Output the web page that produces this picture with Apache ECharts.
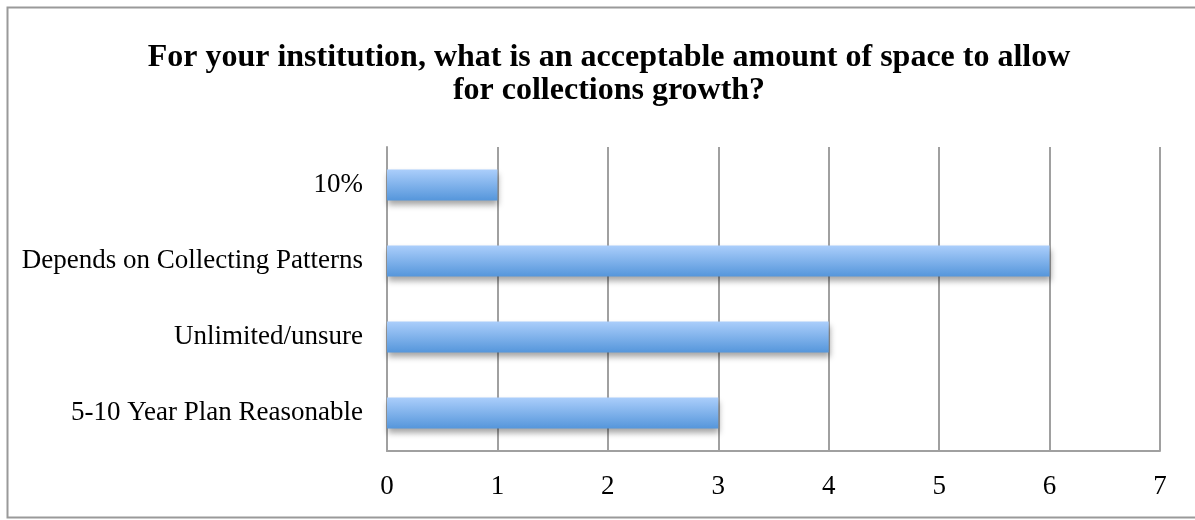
<!DOCTYPE html>
<html>
<head>
<meta charset="utf-8">
<script src="https://cdn.jsdelivr.net/npm/echarts@6/dist/echarts.min.js"></script>
<style>
html,body{margin:0;padding:0;background:#fff;}
#chart{width:1195px;height:520px;}
</style>
</head>
<body>
<div id="chart"></div>
<script>
var titleText = 'For your institution, what is an acceptable amount of space to allow\nfor collections growth?';
var categories = ['10%', 'Depends on Collecting Patterns', 'Unlimited/unsure', '5-10 Year Plan Reasonable'];
var values = [1, 6, 4, 3];
var xTicks = [0, 1, 2, 3, 4, 5, 6, 7];

var chart = echarts.init(document.getElementById('chart'), null, {renderer: 'canvas'});
var font = '"Liberation Serif", "Times New Roman", serif';
chart.setOption({
  animation: false,
  backgroundColor: '#fff',
  graphic: [{
    type: 'rect',
    shape: {x: 7.5, y: 7.5, width: 1200, height: 510},
    style: {fill: 'none', stroke: '#9a9a9a', lineWidth: 2},
    silent: true
  }],
  title: {
    text: titleText,
    left: 604,
    top: 36,
    textAlign: 'center',
    textStyle: {fontFamily: font, fontWeight: 'bold', fontSize: 32, color: '#000', lineHeight: 33}
  },
  grid: {left: 387, right: 35, top: 147, bottom: 69, containLabel: false},
  xAxis: {
    type: 'value',
    min: xTicks[0],
    max: xTicks[xTicks.length - 1],
    interval: 1,
    axisLine: {show: true, lineStyle: {color: '#a0a0a0', width: 2}},
    axisTick: {show: false},
    splitLine: {show: true, lineStyle: {color: '#a0a0a0', width: 2}},
    axisLabel: {fontFamily: font, fontSize: 27, color: '#000', margin: 22}
  },
  yAxis: {
    type: 'category',
    data: categories,
    inverse: true,
    axisLine: {show: true, lineStyle: {color: '#a0a0a0', width: 2}},
    axisTick: {show: false},
    axisLabel: {fontFamily: font, fontSize: 27, color: '#000', margin: 24}
  },
  series: [{
    type: 'bar',
    data: values,
    barWidth: 31,
    itemStyle: {
      color: new echarts.graphic.LinearGradient(0, 0, 0, 1, [
        {offset: 0, color: '#abcefb'},
        {offset: 1, color: '#5596db'}
      ]),
      shadowColor: 'rgba(0,0,0,0.35)',
      shadowBlur: 6,
      shadowOffsetX: 1,
      shadowOffsetY: 4
    }
  }]
});
</script>
</body>
</html>
